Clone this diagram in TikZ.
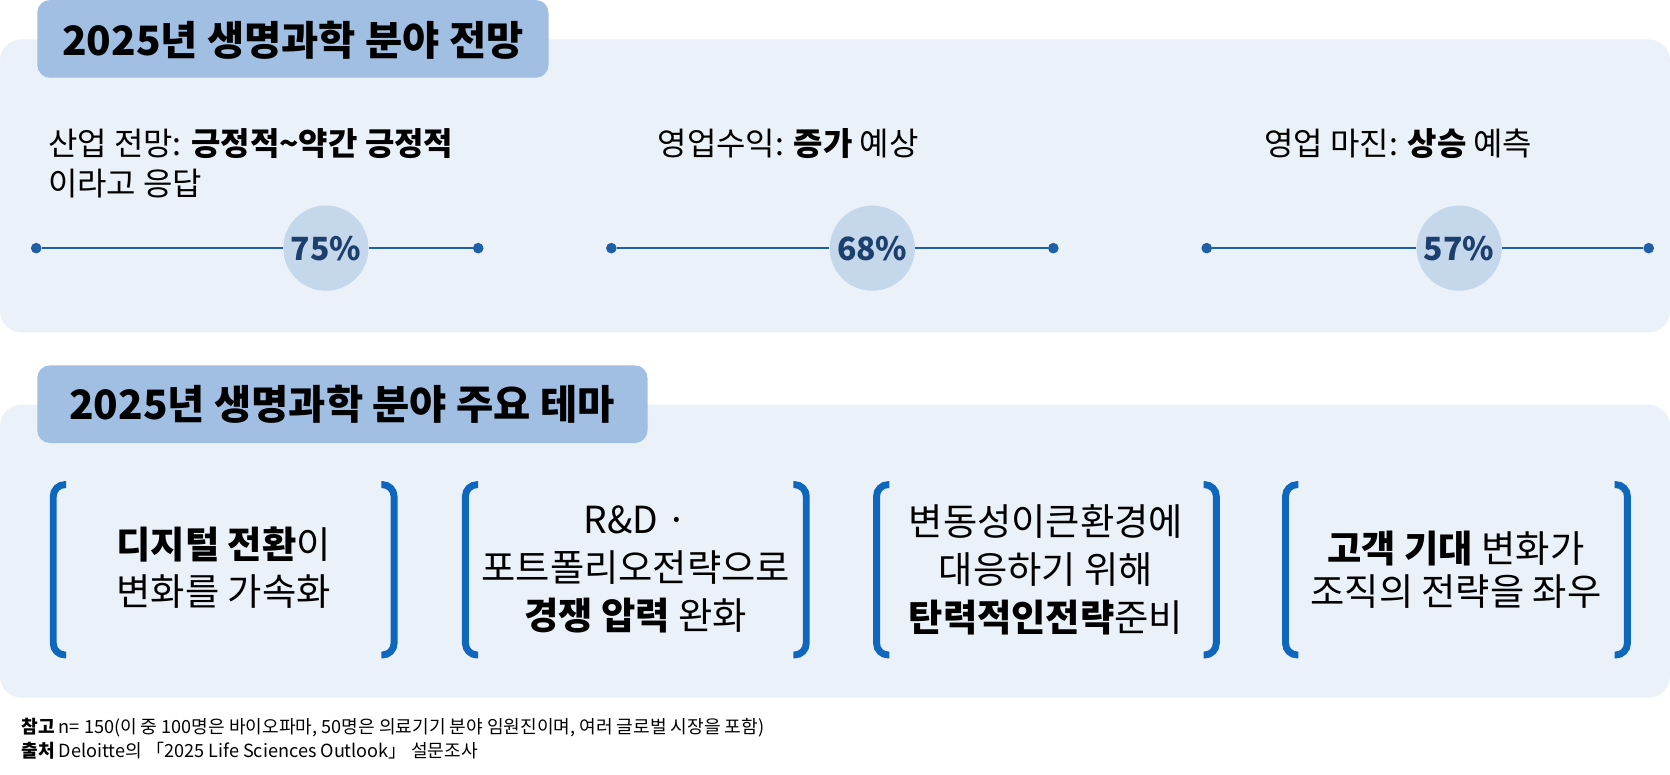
\documentclass[tikz,border=0pt]{standalone}
\usepackage{fontspec}
\setmainfont{Noto Sans CJK KR}
\usetikzlibrary{calc}
\definecolor{panel}{HTML}{EAF1F8}
\definecolor{tab}{HTML}{A0BFE3}
\definecolor{rule}{HTML}{1F5FA8}
\definecolor{disc}{HTML}{C5D7EA}
\definecolor{pct}{HTML}{1C3F6E}
\definecolor{brk}{HTML}{0E67BD}
\newcommand{\fs}[1]{\fontsize{#1}{#1}\selectfont}
\newcommand{\bracketbox}[4]{% left x, right x, top y, bottom y
  \draw[brk, line width=6.5pt, rounded corners=11pt] ($(#1,#3)+(12,0)$) -- (#1,#3) -- (#1,#4) -- ($(#1,#4)+(12,0)$);
  \draw[brk, line width=6.5pt, rounded corners=11pt] ($(#2,#3)+(-12,0)$) -- (#2,#3) -- (#2,#4) -- ($(#2,#4)+(-12,0)$);
}

\begin{document}
\begin{tikzpicture}[x=1pt,y=-1pt]
    \tikzstyle{tabbox}=[fill=tab, rounded corners=12pt]
    \tikzstyle{dot}=[circle, fill=rule, inner sep=0pt, minimum size=10pt]
    \tikzstyle{pctdisc}=[circle, fill=disc, inner sep=0pt, minimum size=80pt, text=pct, font=\fs{30}\bfseries]
    \tikzstyle{lbl}=[font=\fs{30}, inner sep=0pt]
    \tikzstyle{theme}=[font=\fs{35}, align=center, inner sep=0pt]
    \tikzstyle{foot}=[font=\fs{17}, anchor=west, inner sep=0pt]

    \useasboundingbox (0,0) rectangle (1568,727);

    % outlook panel
    \fill[panel, rounded corners=20pt] (0,37) rectangle (1568,312);
    \fill[tabbox] (35,0) rectangle (515,73);
    \node[font=\fs{38}\bfseries] (t1) at (275,38) {2025년 생명과학 분야 전망};

    \node[lbl, anchor=west] (l1a) at (45,135) {산업 전망: \textbf{긍정적\textasciitilde 약간 긍정적}};
    \node[lbl, anchor=west] (l1b) at (45,172) {이라고 응답};
    \node[lbl] (l2) at (740,135) {영업수익: \textbf{증가} 예상};
    \node[lbl] (l3) at (1313,135) {영업 마진: \textbf{상승} 예측};

    \node[dot] (a0) at (34,233) {};
    \node[dot] (a1) at (449,233) {};
    \node[pctdisc] (A) at (306,233) {75\%};
    \node[dot] (b0) at (574,233) {};
    \node[dot] (b1) at (989,233) {};
    \node[pctdisc] (B) at (819,233) {68\%};
    \node[dot] (c0) at (1133,233) {};
    \node[dot] (c1) at (1548,233) {};
    \node[pctdisc] (C) at (1370,233) {57\%};
    \draw[rule, line width=2pt] (a0) -- (A) -- (a1);
    \draw[rule, line width=2pt] (b0) -- (B) -- (b1);
    \draw[rule, line width=2pt] (c0) -- (C) -- (c1);

    % themes panel
    \fill[panel, rounded corners=20pt] (0,380) rectangle (1568,655);
    \fill[tabbox] (35,343) rectangle (608,416);
    \node[font=\fs{38}\bfseries] (t2) at (321,380) {2025년 생명과학 분야 주요 테마};

    \bracketbox{50}{370}{455}{615}
    \bracketbox{437}{757}{455}{615}
    \bracketbox{823}{1142}{455}{615}
    \bracketbox{1207}{1528}{455}{615}

    \node[theme] (th1) at (210,533) {\textbf{디지털 전환}이\\[10pt]변화를 가속화};
    \node[theme] (th2) at (597,535) {R\&D ·\\[10pt]포트폴리오전략으로\\[10pt]\textbf{경쟁 압력} 완화};
    \node[theme] (th3) at (982,535) {변동성이큰환경에\\[10pt]대응하기 위해\\[10pt]\textbf{탄력적인전략}준비};
    \node[theme] (th4) at (1367,535) {\textbf{고객 기대} 변화가\\[5pt]조직의 전략을 좌우};

    % notes
    \node[foot] (n1) at (20,683) {\textbf{참고} \textit{n}= 150(이 중 100명은 바이오파마, 50명은 의료기기 분야 임원진이며, 여러 글로벌 시장을 포함)};
    \node[foot] (n2) at (20,705) {\textbf{출처} Deloitte의 「2025 Life Sciences Outlook」 설문조사};
\end{tikzpicture}
\end{document}
